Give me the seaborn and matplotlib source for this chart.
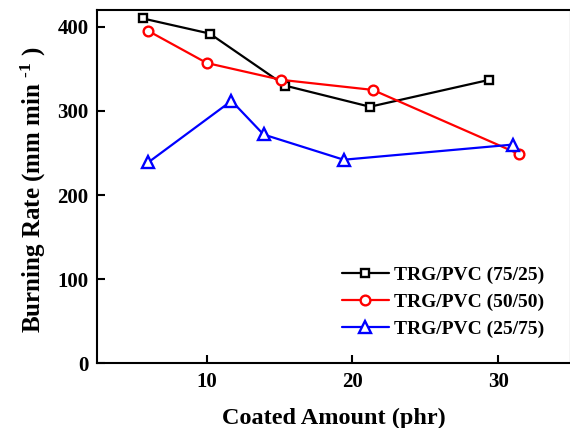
import matplotlib
matplotlib.use("Agg")
import matplotlib.pyplot as plt
import seaborn as sns
import pandas as pd

# Data
x_7525 = [5.6, 10.2, 15.4, 21.2, 29.4]
y_7525 = [410, 392, 330, 305, 337]
x_5050 = [6.0, 10.0, 15.1, 21.4, 31.4]
y_5050 = [395, 357, 337, 325, 249]
x_2575 = [6.0, 11.7, 13.9, 19.4, 31.0]
y_2575 = [239, 312, 272, 242, 260]
labels = ["TRG/PVC (75/25)", "TRG/PVC (50/50)", "TRG/PVC (25/75)"]
colors = ["black", "red", "blue"]
markers = ["s", "o", "^"]
msizes = [5.5, 7.0, 8.0]

sns.set_theme(style="white")
plt.rcParams["font.family"] = ["Liberation Serif", "DejaVu Serif"]
plt.rcParams["font.weight"] = "bold"
plt.rcParams["text.color"] = "black"
plt.rcParams["axes.labelcolor"] = "black"
plt.rcParams["xtick.color"] = "black"
plt.rcParams["ytick.color"] = "black"
plt.rcParams["mathtext.fontset"] = "custom"
plt.rcParams["mathtext.rm"] = "Liberation Serif:bold"
plt.rcParams["mathtext.it"] = "Liberation Serif:bold"
plt.rcParams["mathtext.bf"] = "Liberation Serif:bold"

fig = plt.figure(figsize=(5.7, 4.28), dpi=100)
ax = fig.add_axes([97/570, (428-363.3)/428, (571-97)/570, (363.3-10)/428])

series = [(x_7525, y_7525), (x_5050, y_5050), (x_2575, y_2575)]
for (xs, ys), lab, c, m, ms in zip(series, labels, colors, markers, msizes):
    df = pd.DataFrame({"x": xs, "y": ys})
    sns.lineplot(data=df, x="x", y="y", ax=ax, color=c, marker=m, markersize=ms,
                 markerfacecolor="white", markeredgecolor=c, markeredgewidth=1.7,
                 linewidth=1.6, label=lab, sort=False)

ax.set_xlim(2.47, 35.0)
ax.set_ylim(0, 420)
ax.set_xticks([10, 20, 30])
ax.set_yticks([0, 100, 200, 300, 400])
ax.tick_params(axis="both", direction="in", length=6, width=1.5, labelsize=15,
               bottom=True, left=True, top=False, right=False, pad=6,
               colors="black")
for lab in ax.get_xticklabels() + ax.get_yticklabels():
    lab.set_fontweight("bold")
for s in ax.spines.values():
    s.set_linewidth(1.5)
    s.set_color("black")

ax.set_xlabel("Coated Amount (phr)", fontsize=17.5, fontweight="bold", labelpad=12,
              color="black")
ax.set_ylabel("Burning Rate (mm min $^{\\text{-1}}$ )", fontsize=18, fontweight="bold",
              color="black")
ax.yaxis.set_label_coords(-0.103, 0.49)

leg = ax.legend(loc="upper left", bbox_to_anchor=(338/570, 1 - 262/428),
                bbox_transform=fig.transFigure, frameon=False, fontsize=14,
                handlelength=2.4, handletextpad=0.3, labelspacing=0.5,
                borderpad=0.2, borderaxespad=0)
for t in leg.get_texts():
    t.set_fontweight("bold")
    t.set_color("black")

fig.savefig("out.png", dpi=100)
